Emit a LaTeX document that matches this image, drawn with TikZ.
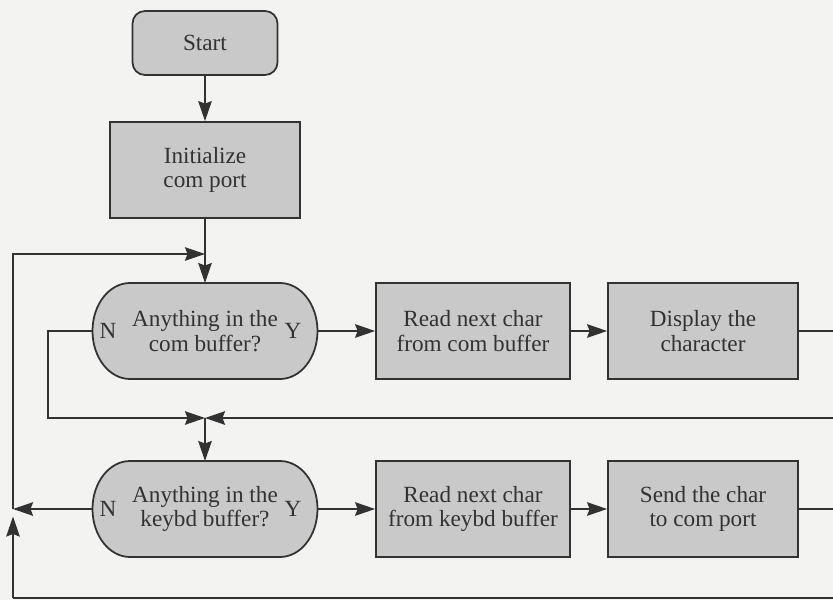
\documentclass[tikz,border=0pt]{standalone}
\usepackage{fontspec}
\setmainfont{Liberation Serif}
\usetikzlibrary{positioning}
\usetikzlibrary{arrows.meta}
\usetikzlibrary{backgrounds}
\definecolor{boxgray}{RGB}{201,201,201}
\definecolor{linegray}{RGB}{50,50,50}
\definecolor{paper}{RGB}{243,243,241}
\tikzset{>={Stealth[length=4mm,width=2.7mm,inset=0.5mm]}}
\tikzset{txt/.style={font=\fontsize{13.2}{14}\selectfont, text=linegray}}
\tikzset{proc/.style={txt, draw=linegray, line width=1pt, fill=boxgray, minimum width=3.8cm, minimum height=1.92cm, align=center, inner sep=2pt}}
\tikzset{startbox/.style={proc, rounded corners=0.25cm, minimum width=2.9cm, minimum height=1.28cm}}
\tikzset{decide/.style={txt, minimum width=4.5cm, minimum height=1.92cm, align=center, inner sep=2pt, outer sep=0pt}}
\tikzset{flow/.style={draw=linegray, line width=1pt}}

\begin{document}
\begin{tikzpicture}
\useasboundingbox (0,0) rectangle (16.66,12);
\clip (0,0) rectangle (16.66,12);
\begin{scope}[on grid]

\node[startbox] (start) at (4.1, 11.14) {Start};
\node[proc] (init) [below = 2.54 of start] {Initialize\\com port};
\node[decide] (com) [below = 3.22 of init] {Anything in the\\com buffer?};
\node[decide] (kbd) [below = 3.56 of com] {Anything in the\\keybd buffer?};

\node[proc, minimum width=3.88cm] (rdcom) [right = 5.36 of com] {Read next char\\from com buffer};
\node[proc] (disp) [right = 4.6 of rdcom] {Display the\\character};
\node[proc, minimum width=3.88cm] (rdkbd) [right = 5.36 of kbd] {Read next char\\from keybd buffer};
\node[proc] (send) [right = 4.6 of rdkbd] {Send the char\\to com port};

% yes/no marks inside the decisions
\node[txt] (n1) [left = 1.94 of com] {N};
\node[txt] (y1) [right = 1.76 of com] {Y};
\node[txt] (n2) [left = 1.94 of kbd] {N};
\node[txt] (y2) [right = 1.76 of kbd] {Y};

% paper and the oval outlines of the two tests
\begin{scope}[on background layer]
\fill[paper] (0,0) rectangle (16.66,12);
\foreach \d in {com,kbd}
  \draw[flow, fill=boxgray] ([xshift=0.75cm]\d.north west) -- ([xshift=-0.75cm]\d.north east)
    arc[start angle=90, end angle=-90, x radius=0.75cm, y radius=0.96cm]
    -- ([xshift=0.75cm]\d.south west)
    arc[start angle=270, end angle=90, x radius=0.75cm, y radius=0.96cm] -- cycle;
\end{scope}

% joints of the loops
\coordinate[above = 1.54 of com] (top);
\coordinate[below = 1.74 of com] (j);
\coordinate[left = 3.14 of com] (nturn);
\coordinate[left = 3.84 of kbd] (lmid);
\coordinate[below = 1.78 of lmid] (lbot);

\draw[flow, ->] (start) -- (init);
\draw[flow, ->] (init) -- (com);
\draw[flow, ->] (com) -- (rdcom);
\draw[flow, ->] (rdcom) -- (disp);
\draw[flow, ->] (j) -- (kbd);
\draw[flow, ->] (kbd) -- (rdkbd);
\draw[flow, ->] (rdkbd) -- (send);

\draw[flow, ->] (com.west) -- (nturn) |- (j);
\draw[flow, ->] (disp.east) -- ++(1,0) |- (j);
\draw[flow, ->] (kbd.west) -- (lmid);
\draw[flow] (send.east) -- ++(1,0) |- (lbot);
\draw[flow, ->, shorten >=0.15cm] (lbot) -- (lmid);
\draw[flow, ->] (lmid) |- (top);
\end{scope}
\end{tikzpicture}
\end{document}
